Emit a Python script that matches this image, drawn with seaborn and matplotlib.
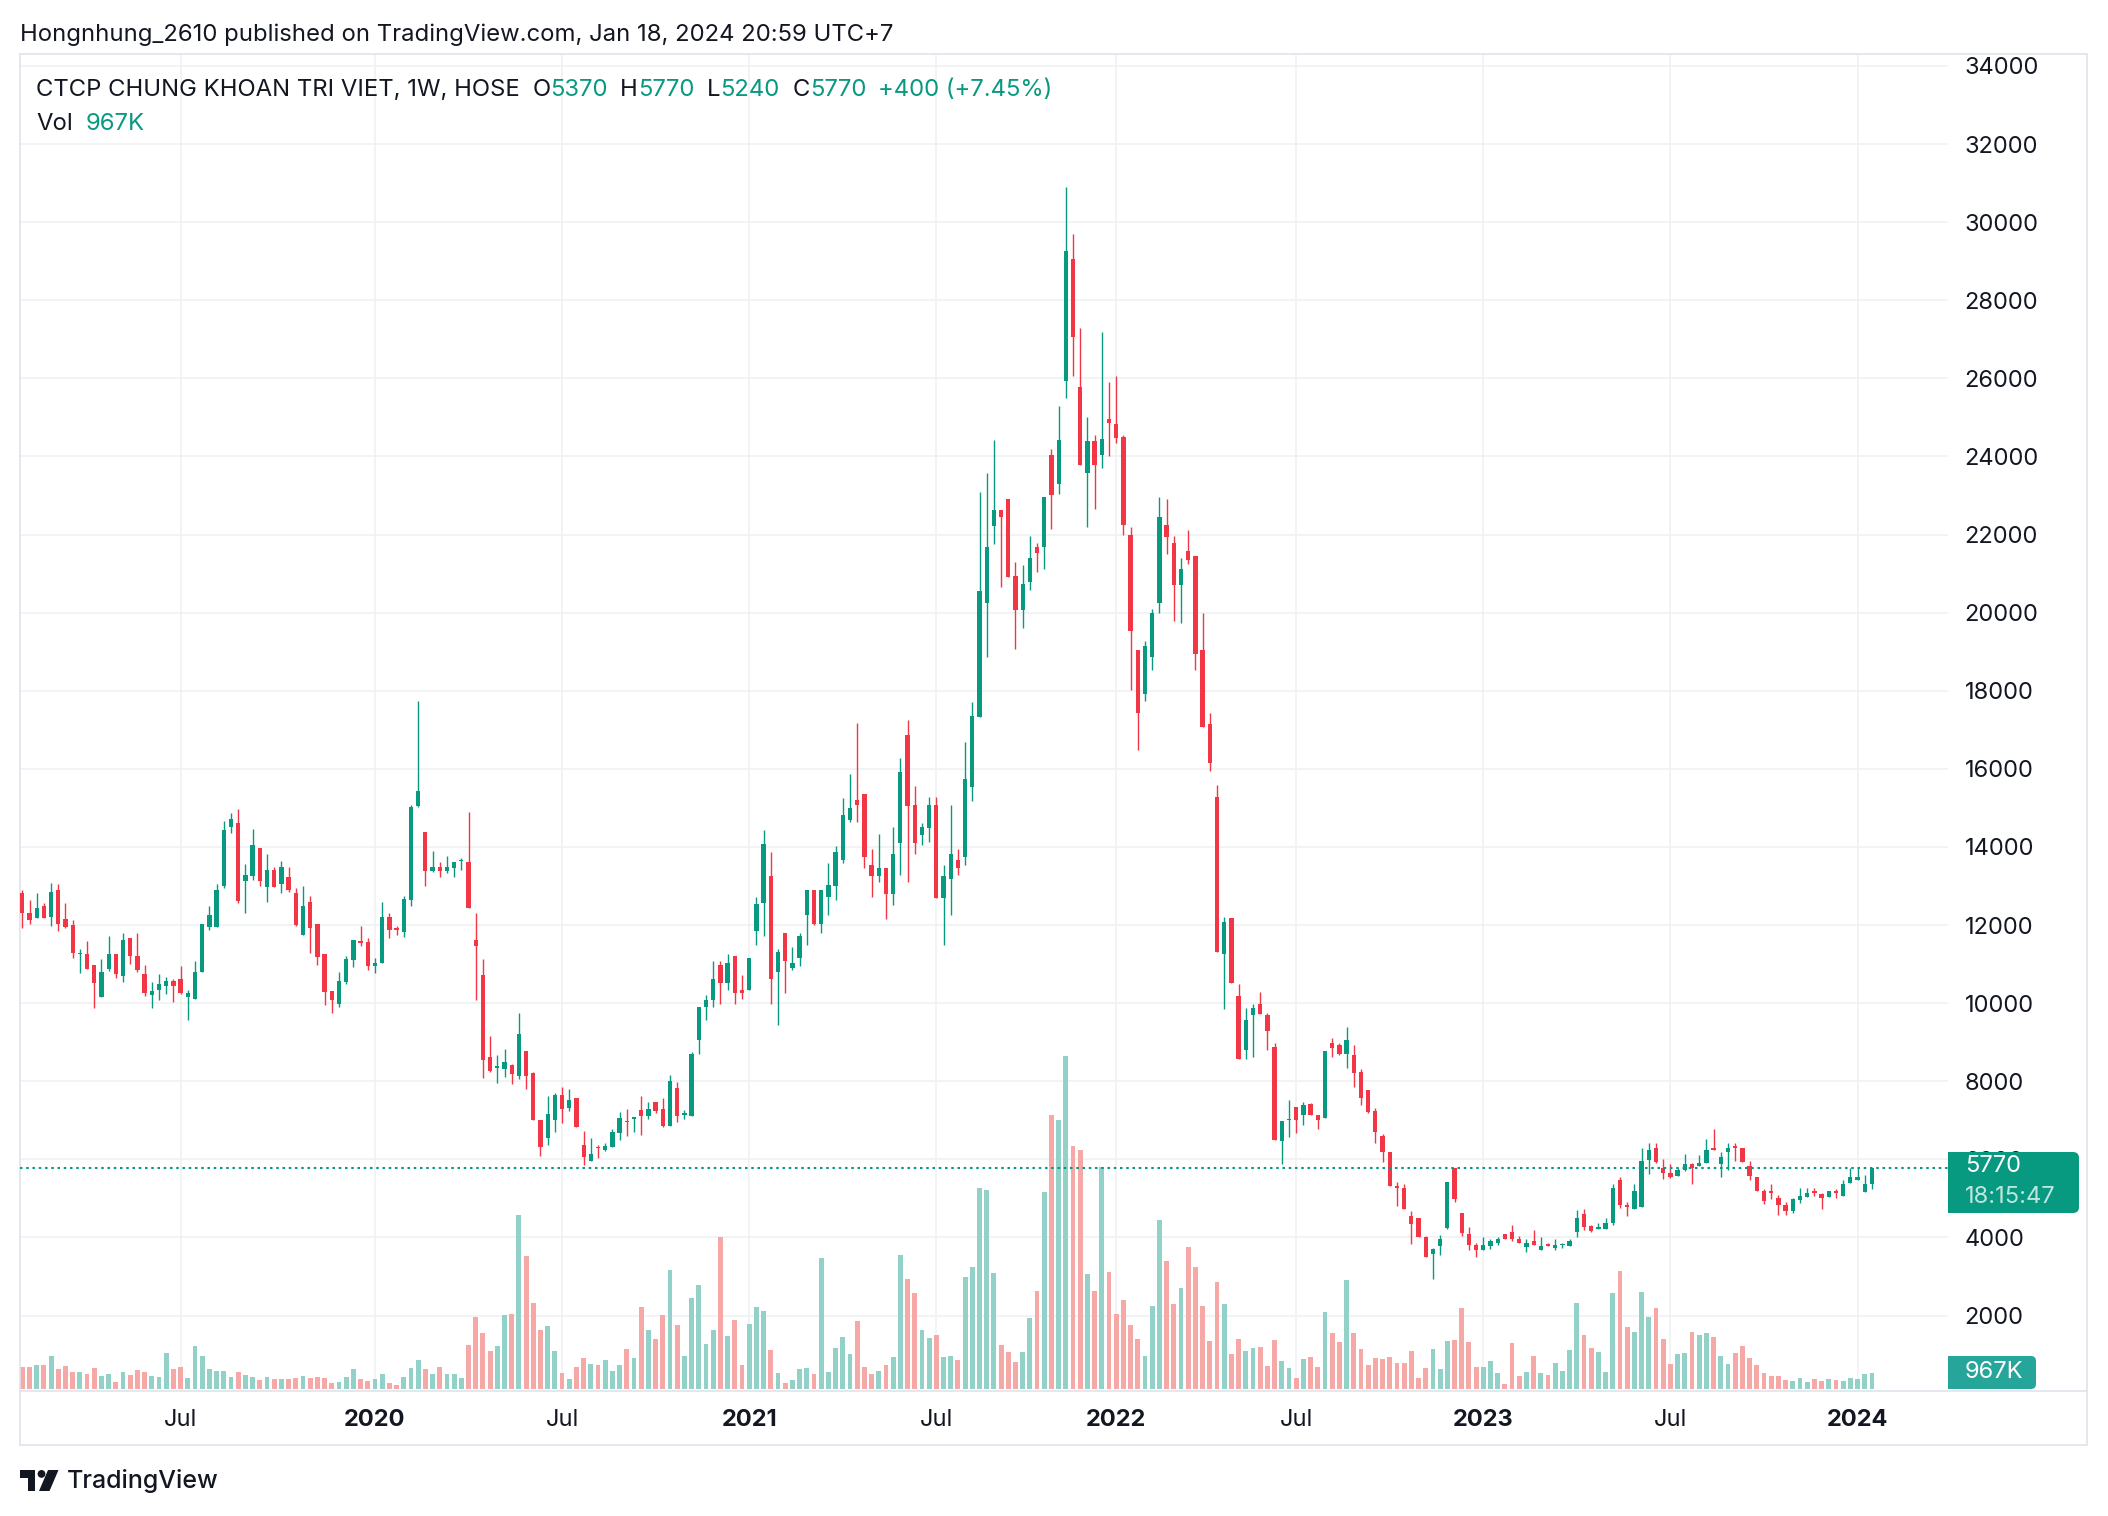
import numpy as np
import pandas as pd
import matplotlib
matplotlib.use("Agg")
import matplotlib.pyplot as plt
import seaborn as sns
from matplotlib.patches import Rectangle, Polygon, Circle, FancyBboxPatch
from matplotlib.lines import Line2D
from matplotlib.transforms import Affine2D, blended_transform_factory

# weekly candles, Jan 2019 -> Jan 2024 (TradingView index axis)
opens = [
    12810, 12320, 12180, 12480, 12200, 12910, 12150, 11990, 11250, 11250,
    10990, 10150, 10870, 11250, 10690, 11660, 11220, 10760, 10200, 10330,
    10440, 10580, 10610, 10150, 10110, 10800, 11950, 11950, 12990, 14500,
    14610, 13120, 13250, 13970, 12970, 13400, 13040, 13220, 12810, 11740,
    12580, 12020, 11250, 10310, 9970, 10540, 11100, 11600, 11560, 10950,
    11030, 12220, 11930, 11820, 12640, 15040, 14380, 13380, 13480, 13380,
    13460, 13630, 13610, 11610, 10710, 8620, 8340, 8310, 8410, 8130,
    8770, 8210, 7020, 6540, 7000, 7660, 7310, 7580, 6360, 5970,
    6330, 6250, 6310, 6680, 6990, 7030, 7270, 7120, 7480, 7300,
    6860, 7840, 7140, 7120, 9070, 9890, 10070, 10970, 10510, 11220,
    10350, 10330, 11860, 12560, 13250, 10810, 11790, 10910, 11150, 12250,
    12910, 12040, 12710, 12990, 13660, 14680, 15200, 15350, 13550, 13260,
    13450, 12800, 14110, 16860, 15070, 14310, 14480, 15070, 12690, 13170,
    13660, 13740, 15540, 17330, 20260, 22230, 22640, 22910, 20940, 20080,
    20780, 21690, 21670, 24040, 23290, 25930, 29070, 25770, 23580, 24390,
    24040, 24950, 24830, 24490, 21980, 19050, 17910, 18860, 20260, 22250,
    21790, 20720, 21580, 21450, 19050, 17150, 15280, 11270, 12180, 10180,
    8810, 9700, 9980, 9710, 8880, 6460, 7000, 7340, 7130, 7410,
    7130, 7060, 8970, 8920, 8710, 8670, 8240, 7770, 7230, 6590,
    6200, 5330, 5280, 4540, 4490, 4000, 3570, 3770, 4240, 5770,
    4640, 4100, 3820, 3680, 3780, 3870, 4100, 4150, 3970, 3750,
    3900, 3680, 3830, 3730, 3800, 3780, 4150, 4590, 4290, 4210,
    4230, 4360, 5480, 4830, 4720, 4790, 5980, 6300, 5790, 5660,
    5570, 5740, 5890, 5830, 5900, 6280, 5870, 6180, 6330, 6280,
    5840, 5540, 5200, 5180, 5000, 4840, 4670, 4960, 5030, 5180,
    5110, 5030, 5180, 5060, 5390, 5470, 5160, 5370,
]
highs = [
    12890, 12630, 12810, 12560, 13070, 13040, 12560, 12120, 11380, 11580,
    10990, 11120, 11730, 11250, 11790, 11660, 11790, 10990, 10530, 10760,
    10680, 10630, 10940, 10350, 11070, 12020, 12500, 13040, 14660, 14860,
    14970, 13560, 14450, 13970, 13810, 13480, 13630, 13480, 12940, 12990,
    12740, 12020, 11250, 10310, 10790, 11200, 11610, 11970, 11660, 11160,
    12580, 12300, 11970, 12740, 15070, 17740, 14380, 13910, 13610, 13760,
    13610, 13710, 14890, 12300, 11120, 9170, 8680, 8820, 8440, 9740,
    8770, 8230, 7020, 7630, 7710, 7860, 7790, 7580, 6720, 6540,
    6360, 6430, 6790, 7220, 7300, 7070, 7630, 7480, 7480, 7580,
    8170, 7990, 7270, 8740, 9890, 10220, 11070, 11070, 11270, 11220,
    10710, 11150, 12710, 14430, 13870, 11380, 11790, 11430, 11790, 12910,
    12910, 12910, 13580, 14020, 15250, 15860, 17170, 15350, 13940, 14330,
    13450, 14500, 16290, 17250, 15550, 14610, 15270, 15270, 13550, 15070,
    13940, 16680, 17710, 23100, 23580, 24430, 22640, 22910, 21300, 21230,
    21970, 21790, 22960, 24200, 25290, 30890, 29710, 27300, 25000, 24550,
    27180, 25900, 26050, 24550, 22190, 19050, 19280, 20100, 22960, 22910,
    21960, 21400, 22120, 21450, 19990, 17440, 15580, 12220, 12180, 10490,
    9870, 9980, 10280, 9750, 8970, 6980, 7520, 7340, 7470, 7450,
    7130, 8770, 9100, 8970, 9390, 8930, 8320, 7770, 7310, 6640,
    6200, 5410, 5380, 4690, 4490, 4030, 3740, 4060, 5410, 5770,
    4640, 4260, 3870, 4000, 3970, 4000, 4100, 4330, 4050, 3950,
    4200, 4000, 3870, 3950, 3860, 3950, 4700, 4720, 4320, 4360,
    4510, 5360, 5540, 4900, 5380, 6290, 6410, 6410, 6020, 5890,
    5790, 6150, 5920, 6100, 6510, 6790, 6180, 6410, 6430, 6280,
    5970, 5540, 5250, 5380, 5100, 4920, 5010, 5280, 5280, 5280,
    5150, 5200, 5230, 5480, 5790, 5790, 5590, 5770,
]
lows = [
    11930, 12040, 12180, 12180, 11970, 11850, 11920, 11150, 10770, 10870,
    9870, 10150, 10820, 10640, 10540, 11000, 10810, 10180, 9870, 10090,
    10230, 10030, 10230, 9560, 10100, 10800, 11870, 11950, 12950, 14360,
    12560, 12320, 13150, 12990, 12580, 12970, 12810, 12860, 11970, 11740,
    11280, 10970, 9950, 9740, 9900, 10480, 10930, 11460, 10860, 10770,
    11030, 11660, 11740, 11690, 12500, 15020, 13000, 13360, 13230, 13330,
    13230, 13410, 12440, 10080, 8080, 8230, 7950, 8100, 7920, 8050,
    7790, 7000, 6080, 6360, 6690, 6920, 7230, 6820, 5850, 5970,
    6030, 6220, 6310, 6490, 6610, 6710, 6630, 7040, 7200, 6840,
    6860, 6970, 7040, 7120, 8710, 9580, 9910, 9970, 10350, 9970,
    10100, 10330, 11500, 11710, 9990, 9430, 10270, 10840, 10940, 11500,
    11990, 11790, 12270, 12630, 13580, 14630, 14630, 13460, 12710, 13100,
    12150, 12520, 13280, 13100, 13830, 14050, 14120, 12690, 11480, 12250,
    13280, 13550, 15180, 17330, 18870, 21750, 20670, 20920, 19060, 19610,
    20570, 21030, 21130, 22140, 23030, 25500, 26060, 23770, 22190, 22660,
    23710, 24020, 24340, 21990, 18030, 16480, 17730, 18540, 20000, 21510,
    19790, 19730, 21240, 18540, 17080, 15940, 11320, 9850, 10520, 8560,
    8560, 8620, 9730, 8790, 6500, 5880, 6580, 6680, 6870, 7130,
    6790, 7060, 8630, 8670, 8330, 7860, 7390, 7200, 6430, 5930,
    5320, 4810, 4730, 3840, 4010, 3500, 2930, 3550, 4210, 4900,
    4030, 3680, 3500, 3680, 3700, 3800, 3970, 3900, 3850, 3620,
    3800, 3680, 3780, 3680, 3730, 3780, 4000, 4180, 4140, 4210,
    4230, 4310, 4750, 4540, 4720, 4790, 5620, 5900, 5490, 5520,
    5570, 5690, 5360, 5830, 5900, 6230, 5560, 5740, 5950, 5930,
    5460, 5190, 4850, 4980, 4570, 4570, 4620, 4880, 5030, 5060,
    4720, 5030, 5010, 5060, 5390, 5470, 5160, 5240,
]
closes = [
    12320, 12130, 12450, 12180, 12860, 12030, 11950, 11280, 11290, 10870,
    10510, 10810, 11250, 10740, 11610, 11200, 10860, 10260, 10320, 10500,
    10560, 10440, 10260, 10270, 10810, 12020, 12270, 12910, 14430, 14710,
    12610, 13270, 14040, 13120, 13400, 12970, 13480, 12890, 12000, 12500,
    11920, 11180, 10280, 10080, 10560, 11120, 11610, 11550, 10950, 11040,
    12220, 11870, 11870, 12660, 15020, 15430, 13380, 13500, 13380, 13480,
    13610, 13660, 12440, 11460, 8540, 8260, 8360, 8490, 8180, 9210,
    8130, 7000, 6330, 7170, 7660, 7280, 7530, 6820, 6050, 6130,
    6280, 6350, 6710, 7070, 6950, 7070, 7120, 7300, 7250, 6860,
    8020, 7120, 7170, 8710, 9890, 10090, 10630, 10510, 11020, 10250,
    10250, 11150, 12530, 14070, 10630, 11320, 11070, 11040, 11710, 12910,
    12040, 12910, 13020, 13860, 14810, 14990, 15070, 13740, 13260, 13450,
    12800, 13830, 15920, 15050, 14110, 14500, 15070, 12690, 13260, 13830,
    13460, 15730, 17350, 20560, 21690, 22640, 22450, 20920, 20080, 20730,
    21400, 21540, 22960, 23010, 24430, 29250, 27060, 23770, 24390, 23770,
    24440, 24850, 24480, 22250, 19520, 17420, 19150, 19990, 22450, 21950,
    20720, 21120, 21340, 18940, 17080, 16160, 11320, 12080, 10520, 8560,
    9570, 9870, 9730, 9300, 6500, 6980, 7040, 7020, 7390, 7130,
    7020, 8770, 8860, 8710, 9070, 8220, 7580, 7220, 6710, 6200,
    5320, 5280, 4730, 4350, 4010, 3500, 3700, 3970, 5410, 4980,
    4110, 3800, 3680, 3800, 3900, 3970, 3970, 3970, 3850, 3870,
    3800, 3770, 3780, 3820, 3830, 3920, 4510, 4260, 4160, 4260,
    4360, 5280, 4820, 4780, 5180, 5970, 6250, 5930, 5650, 5540,
    5740, 5890, 5770, 5920, 6250, 6230, 6050, 6300, 6290, 5930,
    5570, 5190, 4930, 5130, 4830, 4670, 4980, 5060, 5150, 5130,
    5010, 5190, 5130, 5380, 5560, 5560, 5360, 5770,
]
# volume in thousands of shares
volumes_k = [
    1330, 1330, 1451, 1451, 1995, 1209, 1390, 1028, 1028, 907,
    1269, 786, 907, 423, 1028, 846, 1149, 1028, 786, 725,
    2176, 1209, 1330, 665, 2599, 1995, 1209, 1088, 1088, 725,
    1028, 846, 725, 544, 725, 605, 605, 605, 665, 786,
    665, 725, 665, 363, 423, 725, 1209, 605, 484, 605,
    907, 363, 242, 725, 1269, 1753, 1209, 907, 1330, 907,
    907, 665, 2660, 4352, 3385, 2297, 2599, 4473, 4534, 10518,
    8040, 5199, 3567, 3808, 2297, 967, 605, 1330, 1874, 1511,
    1451, 1753, 1088, 1451, 2418, 1874, 4957, 3567, 3023, 4473,
    7194, 3869, 1995, 5521, 6287, 2720, 3567, 9188, 3204, 4171,
    1451, 3929, 4957, 4715, 2358, 967, 363, 544, 1209, 1269,
    907, 7919, 1028, 2478, 3143, 2116, 4111, 1330, 907, 1088,
    1451, 1934, 8100, 6650, 5803, 3567, 3083, 3264, 1934, 1995,
    1753, 6770, 7375, 12150, 12030, 7012, 2660, 2237, 1632, 2237,
    4292, 5924, 11909, 16563, 16261, 20130, 14689, 14448, 6952, 5924,
    13420, 7073, 4534, 5380, 3869, 3023, 1995, 5017, 10216, 7738,
    5138, 6105, 8584, 7375, 5017, 2902, 6468, 5138, 2116, 3023,
    2297, 2478, 2539, 1390, 2962, 1693, 1269, 665, 1814, 1934,
    1330, 4655, 3385, 2841, 6589, 3385, 2418, 1451, 1874, 1814,
    1934, 1572, 1572, 2297, 665, 1269, 2418, 1209, 2902, 2962,
    4896, 2841, 1330, 1330, 1693, 967, 302, 2781, 786, 1028,
    1995, 967, 846, 1572, 1088, 2358, 5199, 3264, 2478, 2237,
    1028, 5803, 7133, 3748, 3446, 5864, 4352, 4896, 3023, 1511,
    2116, 2176, 3446, 3264, 3385, 3143, 1995, 1511, 2176, 2599,
    1874, 1451, 967, 786, 786, 544, 484, 665, 423, 605,
    484, 605, 544, 484, 665, 605, 907, 967,
]
tick_pos = [22, 49, 75, 101, 127, 152, 177, 203, 229, 255]
tick_labels = ["Jul", "2020", "Jul", "2021", "Jul", "2022", "Jul", "2023", "Jul", "2024"]
price_ticks = list(range(2000, 36000, 2000))

df = pd.DataFrame({"open": opens, "high": highs, "low": lows,
                   "close": closes, "volume": volumes_k})
df["idx"] = np.arange(len(df))
df["dir"] = np.where(df["close"] >= df["open"], "up", "down")

UP, DOWN = "#089981", "#F23645"
VOL_UP, VOL_DOWN = "#92D1C8", "#F6A8A7"
DARK = "#131722"
GRID = "#F0F1F3"
BORDER = "#E0E3EB"

sns.set_theme(style="white")
plt.rcParams["font.family"] = ["Inter", "DejaVu Sans"]

W, H = 2108, 1516
L, R, T, B = 20, 1948, 54, 1391
fig = plt.figure(figsize=(W / 100, H / 100), dpi=100)
fig.patch.set_facecolor("white")
px = Affine2D().scale(1 / W, 1 / H) + fig.transFigure

ax = fig.add_axes([L / W, 1 - B / H, (R - L) / W, (B - T) / H])
axv = ax.twinx()
ax.set_zorder(2)
axv.set_zorder(1)
ax.patch.set_visible(False)

# volume bars (behind candles)
sns.barplot(data=df, x="idx", y="volume", hue="dir",
            palette={"up": VOL_UP, "down": VOL_DOWN}, native_scale=True,
            width=0.67, dodge=False, saturation=1, errorbar=None,
            legend=False, linewidth=0, ax=axv)
axv.set_ylim(-121, 80650)
axv.set_yticks([])
axv.set_ylabel("")
axv.tick_params(length=0, labelright=False)

# grid lines drawn on the back axes
for p in price_ticks:
    axv.add_line(Line2D([0, 1], [p, p], color=GRID, lw=1.2, zorder=0.5,
                        transform=blended_transform_factory(axv.transAxes, ax.transData)))
for xp in tick_pos:
    axv.add_line(Line2D([xp, xp], [0, 1], color=GRID, lw=1.2, zorder=0.5,
                        transform=blended_transform_factory(axv.transData, axv.transAxes)))

# candles
cols = np.where(df["dir"] == "up", UP, DOWN)
ax.vlines(df["idx"], df["low"], df["high"], colors=cols, lw=1.0, zorder=3)
body_lo = np.minimum(df["open"], df["close"])
body_h = np.maximum((df["close"] - df["open"]).abs(), 45)
ax.bar(df["idx"], body_h, bottom=body_lo, width=0.6, color=cols, linewidth=0, zorder=4)

last_close = closes[-1]
ax.axhline(last_close, color=UP, lw=1.5, ls=(0, (1.2, 1.8)), zorder=5)

ax.set_xlim(-0.32, 267.57)
ax.set_ylim(69, 34307)
for s in list(ax.spines.values()) + list(axv.spines.values()):
    s.set_visible(False)

ax.yaxis.tick_right()
ax.set_yticks(price_ticks)
ax.set_yticklabels([str(p) for p in price_ticks])
ax.tick_params(axis="y", length=0, pad=12, labelsize=17, labelcolor=DARK,
               labelright=True, labelleft=False)
ax.set_xticks(tick_pos)
ax.set_xticklabels(tick_labels)
ax.tick_params(axis="x", length=0, pad=13, labelsize=17, labelcolor=DARK)
for lab in ax.get_xticklabels():
    if lab.get_text().isdigit():
        lab.set_fontweight("bold")
ax.grid(False)
axv.grid(False)

# frame lines
for xs, ys in [([L, 2087], [T, T]), ([L, L], [T, 1445]), ([2087, 2087], [T, 1445]),
               ([L, 2087], [1445, 1445]), ([L, 2087], [B, B])]:
    fig.add_artist(Line2D(xs, [H - y for y in ys], color=BORDER, lw=1.2, transform=px))

# last price tag and volume tag
fig.add_artist(FancyBboxPatch((R, H - 1213), 131, 61, boxstyle="round,pad=0,rounding_size=6",
                              fc=UP, ec="none", transform=px, zorder=6))
fig.add_artist(Rectangle((R, H - 1213), 10, 61, fc=UP, ec="none", transform=px, zorder=6))
fig.text(1965, H - 1166, str(last_close), color="white", fontsize=17, va="center",
         transform=px, zorder=7)
fig.text(1965, H - 1197, "18:15:47", color="#BDE6DF", fontsize=17, va="center",
         transform=px, zorder=7)
fig.add_artist(FancyBboxPatch((R, H - 1389), 88, 33, boxstyle="round,pad=0,rounding_size=5",
                              fc="#26A69A", ec="none", transform=px, zorder=6))
fig.add_artist(Rectangle((R, H - 1389), 10, 33, fc="#26A69A", ec="none", transform=px, zorder=6))
fig.text(1965, H - 1372, f"{volumes_k[-1]}K", color="white", fontsize=17, va="center",
         transform=px, zorder=7)

# header texts
fs = 17.2
fig.text(20, H - 35, "Hongnhung_2610 published on TradingView.com, Jan 18, 2024 20:59 UTC+7",
         color=DARK, fontsize=fs, va="center", transform=px)
prev = fig.text(36, H - 90, "CTCP CHUNG KHOAN TRI VIET, 1W, HOSE", color=DARK,
                fontsize=fs, va="center", transform=px)
parts = [("O", DARK, 9), (str(opens[-1]), UP, 0), ("H", DARK, 9), (str(highs[-1]), UP, 0),
         ("L", DARK, 9), (str(lows[-1]), UP, 0), ("C", DARK, 9), (str(closes[-1]), UP, 0),
         ("+400 (+7.45%)", UP, 9)]
for s, col, gap in parts:
    prev = ax.annotate(s, xy=(1, 0.5), xycoords=prev, xytext=(gap, 0),
                       textcoords="offset points", va="center", ha="left",
                       fontsize=fs, color=col, annotation_clip=False)
vt = fig.text(36, H - 124, "Vol", color=DARK, fontsize=fs, va="center", transform=px)
ax.annotate(f"{volumes_k[-1]}K", xy=(1, 0.5), xycoords=vt, xytext=(9, 0),
            textcoords="offset points", va="center", ha="left", fontsize=fs,
            color=UP, annotation_clip=False)

# TradingView logo + wordmark
lax = fig.add_axes([20 / W, 1 - 1492 / H, 40 / W, 22 / H])
lax.set_xlim(0, 40)
lax.set_ylim(22, 0)
lax.axis("off")
lax.add_patch(Polygon([(0, 0), (15, 0), (15, 21), (7.5, 21), (7.5, 7.5), (0, 7.5)],
                      closed=True, fc=DARK, ec="none"))
lax.add_patch(Circle((21.5, 3.9), 3.9, fc=DARK, ec="none"))
lax.add_patch(Polygon([(28, 0), (38.5, 0), (29.5, 21), (19, 21)], closed=True,
                      fc=DARK, ec="none"))
fig.text(67, H - 1481, "TradingView", color=DARK, fontsize=18, fontweight="medium",
         va="center", transform=px)

fig.savefig("out.png", dpi=100)
